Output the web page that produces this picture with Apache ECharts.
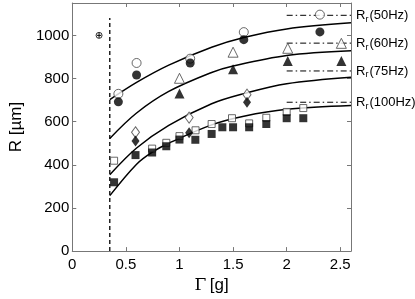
<!DOCTYPE html>
<html><head><meta charset="utf-8">
<script src="https://cdn.jsdelivr.net/npm/echarts@6/dist/echarts.min.js"></script>
<style>html,body{margin:0;padding:0;background:#fff}#c{width:415px;height:299px}</style>
</head><body><div id="c"></div>
<script>
// ---- data ----
const fit50  = [[0.35,702],[0.6,782],[0.9,862],[1.3,945],[1.6,990],[2.0,1030],[2.6,1058]];
const fit60  = [[0.35,522],[0.6,640],[0.9,740],[1.3,828],[1.5,858],[2.0,907],[2.6,929]];
const fit75  = [[0.35,354],[0.6,478],[0.9,583],[1.3,683],[1.6,730],[2.0,776],[2.6,806]];
const fit100 = [[0.35,257],[0.6,403],[0.75,460],[0.9,500],[1.3,585],[1.6,625],[2.0,657],[2.6,675]];

const rrNames  = ['50Hz','60Hz','75Hz','100Hz'];
const rrValues = [1093, 964, 835, 690];
const rrStart = 2.0, rrEnd = 2.6;

const openCircle   = [[0.43,729],[0.60,872],[1.10,892],[1.60,1015],[2.31,1096]];
const filledCircle = [[0.43,692],[0.60,816],[1.10,872],[1.60,980],[2.31,1016]];
const openTri      = [[1.0,801],[1.5,922],[2.01,940],[2.51,963]];
const filledTri    = [[1.0,731],[1.5,843],[2.01,881],[2.51,881]];
const openDiamond   = [[0.59,551],[1.09,619],[1.63,725]];
const filledDiamond = [[0.59,510],[1.09,548],[1.63,690]];
const openSquare   = [[0.39,419],[0.745,475],[0.877,502],[1.0,533],[1.15,560],[1.3,589],[1.49,616],[1.65,592],[1.81,618],[2.0,645],[2.155,663]];
const filledSquare = [[0.39,319],[0.59,445],[0.745,457],[0.877,486],[1.0,517],[1.148,516],[1.3,543],[1.40,574],[1.50,574],[1.65,574],[1.81,589],[2.0,616],[2.155,616]];

const thresholdG = 0.35, thresholdTop = 1080;
const errPoint = [0.25, 1000], errDx = 0.02, errDy = 12;

const xMin = 0, xMax = 2.6, xStep = 0.5;
const yMin = 0, yMax = 1150, yStep = 200;

// ---- chart ----
const axisColor = '#777';
const font = 'Liberation Sans, Arial, Helvetica, sans-serif';
const chart = echarts.init(document.getElementById('c'));
function onStep(v, s){ return Math.abs(v/s - Math.round(v/s)) < 1e-6; }
const baseAxis = {
  type:'value', splitLine:{show:false},
  axisLine:{show:true, onZero:false, lineStyle:{color:axisColor, width:1}},
  axisTick:{show:true, inside:true, length:4, lineStyle:{color:axisColor}},
};
const series = [];
function curve(d){ series.push({type:'line', data:d, smooth:0.35, symbol:'none', lineStyle:{color:'#000', width:1.5}, z:2}); }
[fit50, fit60, fit75, fit100].forEach(curve);
rrValues.forEach((v,i)=>{
  series.push({type:'line', data:[[rrStart,v],[rrEnd,v]], symbol:'none', clip:false,
    lineStyle:{color:'#000', width:1, type:[6,3,1.5,3]},
    endLabel:{show:true, distance:5, formatter:'{a|R}{b|r}{a|('+rrNames[i]+')}',
      rich:{a:{fontSize:13, fontFamily:font, color:'#000'}, b:{fontSize:9, fontFamily:font, color:'#000', padding:[8,1,0,0]}}},
    z:2});
});
series.push({type:'line', data:[[thresholdG,yMin],[thresholdG,thresholdTop]], symbol:'none',
  lineStyle:{color:'#000', width:1.3, type:[4,3]}, z:2});
function scatter(d, sym, size, filled){
  series.push({type:'scatter', data:d, symbol:sym, symbolSize:size,
    itemStyle: filled ? {color:'#000'} : {color:'#fff', borderColor:'#444', borderWidth:1},
    z: filled ? 4 : 3});
}
scatter(openCircle,'circle',9,false);
scatter(filledCircle,'circle',9,true);
scatter(openTri,'triangle',10,false);
scatter(filledTri,'triangle',10,true);
scatter(openDiamond,'diamond',[8,11],false);
scatter(filledDiamond,'diamond',[8,11],true);
scatter(openSquare,'rect',7,false);
scatter(filledSquare,'rect',8,true);
// error-bar point
series.push({type:'line', data:[[errPoint[0]-errDx,errPoint[1]],[errPoint[0]+errDx,errPoint[1]]], symbol:'none', lineStyle:{color:'#000',width:1}, z:5});
series.push({type:'line', data:[[errPoint[0],errPoint[1]-errDy],[errPoint[0],errPoint[1]+errDy]], symbol:'none', lineStyle:{color:'#000',width:1}, z:5});
series.push({type:'scatter', data:[errPoint], symbol:'circle', symbolSize:6, itemStyle:{color:'#fff', borderColor:'#000', borderWidth:1}, z:4});

chart.setOption({
  animation:false,
  grid:{left:70, right:64, top:3, bottom:44.5, containLabel:false},
  xAxis:[
    Object.assign({}, baseAxis, {min:xMin, max:xMax, interval:xStep, position:'bottom',
      name:'{g|Γ} {t|[g]}', nameLocation:'middle', nameGap:24,
      nameTextStyle:{rich:{g:{fontFamily:'DejaVu Serif, Liberation Serif, serif', fontSize:17, color:'#000'}, t:{fontFamily:font, fontSize:17, color:'#000'}}},
      axisLabel:{fontSize:15, fontFamily:font, color:'#000', margin:6, showMaxLabel:false,
        formatter:v=> onStep(v,xStep) ? String(v) : ''}}),
    Object.assign({}, baseAxis, {min:xMin, max:xMax, interval:xStep, position:'top', axisLabel:{show:false}})
  ],
  yAxis:[
    Object.assign({}, baseAxis, {min:yMin, max:yMax, interval:yStep, position:'left',
      name:'R [µm]', nameLocation:'middle', nameGap:47, nameRotate:90,
      nameTextStyle:{fontFamily:font, fontSize:17, color:'#000'},
      axisLabel:{fontSize:15, fontFamily:font, color:'#000', margin:3, showMaxLabel:false,
        formatter:v=> onStep(v,yStep) ? String(v) : ''}}),
    Object.assign({}, baseAxis, {min:yMin, max:yMax, interval:yStep, position:'right', axisLabel:{show:false}})
  ],
  series: series
});
</script></body></html>
